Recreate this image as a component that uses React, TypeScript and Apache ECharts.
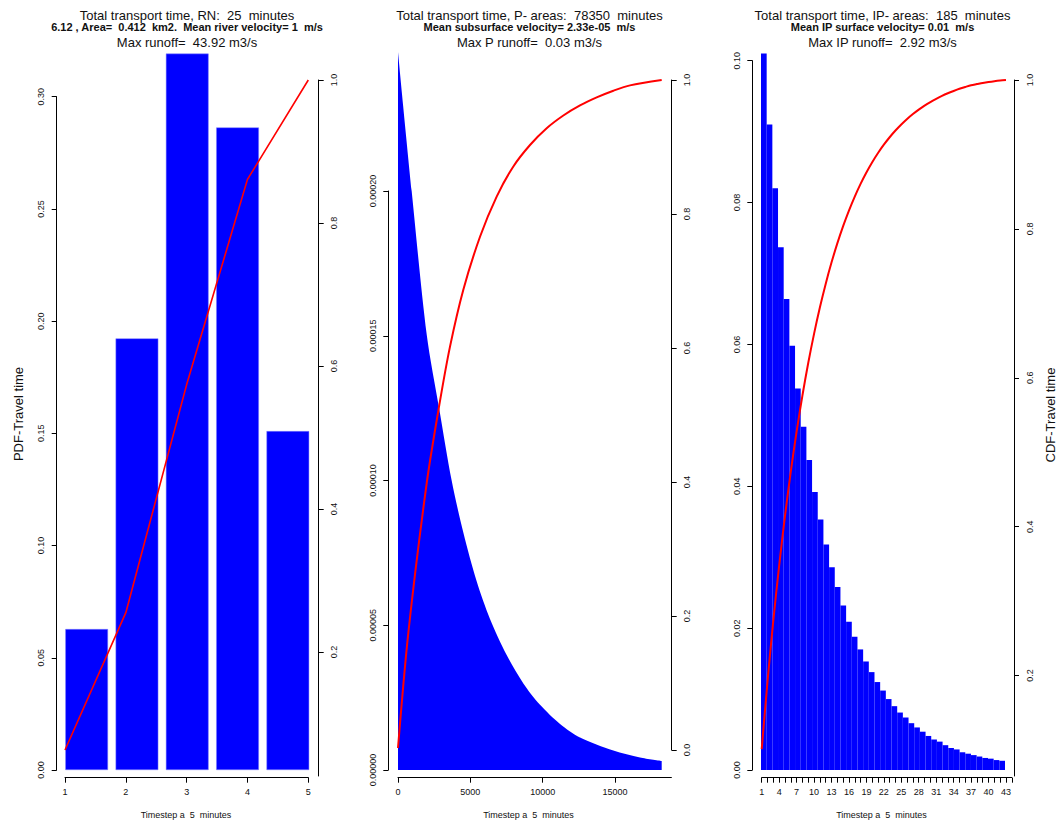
import React, { useEffect, useRef } from "react";
import * as echarts from "echarts";

const FONT = '"Liberation Sans", Arial, Helvetica, sans-serif';
const BLUE = "#0000FF";
const RED = "#FF0000";
const INK = "#111111";

// ---------- Panel 1 : river network (RN) ----------
const rnCategories = ["1", "2", "3", "4", "5"];
const rnPdf = [0.0628, 0.1923, 0.3192, 0.2863, 0.151];
const rnCdfSteps = [1, 2, 3, 4, 5];
const rnCdf = [0.063, 0.255, 0.574, 0.861, 1.0];
const rnXTicks = [1, 2, 3, 4, 5];
const rnCdfTicks = [0.2, 0.4, 0.6, 0.8, 1.0];

// ---------- Panel 2 : P- areas ----------
const pTime = [0, 945, 1982, 2857, 3710, 4516, 5438, 6360, 7512, 8665, 9817, 11200, 12582, 14887, 16731, 18229];
const pPdf = [0.000248, 0.0002, 0.0001505, 0.0001245, 0.0001, 0.000082, 0.0000652, 0.0000522, 0.0000397, 0.0000299, 0.0000225, 0.0000159, 0.0000112, 0.0000067, 0.0000043, 0.0000031];
const pCdfTime = [0, 714, 1982, 2857, 3595, 4516, 5669, 6821, 7974, 9126, 10278, 11430, 12582, 13735, 14887, 16039, 18229];
const pCdf = [0.003, 0.175, 0.398, 0.515, 0.602, 0.687, 0.766, 0.826, 0.871, 0.903, 0.928, 0.947, 0.962, 0.974, 0.984, 0.992, 1.0];
const pXTicks = [0, 5000, 10000, 15000];

// ---------- Panel 3 : IP- areas ----------
const ipSteps = Array.from({ length: 43 }, (_, i) => String(i + 1));
const ipPdf = [0.101, 0.091, 0.082, 0.0737, 0.0664, 0.0598, 0.0538, 0.0484, 0.0437, 0.0392, 0.0353, 0.0318, 0.0286, 0.0258, 0.0232, 0.0209, 0.0188, 0.017, 0.0153, 0.0138, 0.0124, 0.0112, 0.01, 0.009, 0.0081, 0.0074, 0.0066, 0.006, 0.0054, 0.0048, 0.0043, 0.004, 0.0035, 0.0031, 0.0029, 0.0025, 0.0023, 0.0021, 0.0019, 0.0017, 0.0016, 0.0014, 0.0013];
const ipCdf = [0.101, 0.192, 0.274, 0.3477, 0.4141, 0.4739, 0.5277, 0.5761, 0.6198, 0.659, 0.6943, 0.7261, 0.7547, 0.7805, 0.8037, 0.8246, 0.8434, 0.8604, 0.8757, 0.8895, 0.9019, 0.9131, 0.9231, 0.9321, 0.9402, 0.9476, 0.9542, 0.9602, 0.9656, 0.9704, 0.9747, 0.9787, 0.9822, 0.9853, 0.9882, 0.9907, 0.993, 0.9945, 0.996, 0.9973, 0.9984, 0.9993, 1.0];
const ipXLabels = [1, 4, 7, 10, 13, 16, 19, 22, 25, 28, 31, 34, 37, 40, 43];
const ipCdfTicks = [0.2, 0.4, 0.6, 0.8, 1.0];

// ---------- Texts ----------
const panelTitles = [
  ["Total transport time, RN:  25  minutes", "6.12 , Area=  0.412  km2.  Mean river velocity= 1  m/s", "Max runoff=  43.92 m3/s"],
  ["Total transport time, P- areas:  78350  minutes", "Mean subsurface velocity= 2.33e-05  m/s", "Max P runoff=  0.03 m3/s"],
  ["Total transport time, IP- areas:  185  minutes", "Mean IP surface velocity= 0.01  m/s", "Max IP runoff=  2.92 m3/s"],
];
const xTitle = "Timestep a  5  minutes";
const leftTitle = "PDF-Travel time";
const rightTitle = "CDF-Travel time";

const panelCenters = [187, 529.5, 882.5];

const axisLine = { show: true, onZero: false, lineStyle: { color: "#000", width: 1 } };
const axisTick = (extra: any = {}) => ({ show: true, length: 5, inside: false, lineStyle: { color: "#000", width: 1 }, ...extra });
const lbl = (extra: any = {}) => ({ show: true, fontFamily: FONT, fontSize: 9, color: INK, ...extra });

function buildOption() {
  const grid = [
    { left: 61.5, top: 96.7, width: 251.5, height: 673.3 },
    { left: 65, top: 80, width: 243.3, height: 696 },
    { left: 398, top: 191, width: 273.4, height: 579 },
    { left: 398, top: 80, width: 273.4, height: 670 },
    { left: 761, top: 60.7, width: 244, height: 709.3 },
    { left: 761.7, top: 80, width: 250.1, height: 696 },
  ].map((g) => ({ ...g, containLabel: false, show: false }));

  const xAxis: any[] = [
    { gridIndex: 0, type: "category", data: rnCategories, show: false, boundaryGap: true },
    {
      gridIndex: 1, type: "value", position: "bottom", offset: 1.7, min: 1, max: 5, interval: 1,
      axisLine, axisTick: axisTick({ customValues: rnXTicks }),
      axisLabel: lbl({ margin: 10, customValues: rnXTicks, formatter: (v: number) => String(v) }),
      splitLine: { show: false },
    },
    {
      gridIndex: 2, type: "value", position: "bottom", offset: 7.7, min: 0, max: 18900,
      axisLine, axisTick: axisTick({ customValues: pXTicks }),
      axisLabel: lbl({ margin: 10, customValues: pXTicks, formatter: (v: number) => String(v) }),
      splitLine: { show: false },
    },
    { gridIndex: 3, type: "value", min: 0, max: 18900, show: false },
    { gridIndex: 4, type: "category", data: ipSteps, show: false, boundaryGap: true },
    {
      gridIndex: 5, type: "value", position: "bottom", offset: 1.7, min: 1, max: 44, interval: 1,
      axisLine, axisTick: axisTick(),
      axisLabel: lbl({
        margin: 10, customValues: ipXLabels,
        formatter: (v: number) => (ipXLabels.indexOf(Math.round(v)) >= 0 ? String(Math.round(v)) : ""),
      }),
      splitLine: { show: false },
    },
  ];

  const yAxis: any[] = [
    {
      gridIndex: 0, type: "value", position: "left", offset: 4.8, min: 0, max: 0.3, interval: 0.05,
      axisLine, axisTick: axisTick(),
      axisLabel: lbl({ rotate: 90, margin: 11, formatter: (v: number) => v.toFixed(2) }),
      splitLine: { show: false },
    },
    {
      gridIndex: 1, type: "value", position: "right", offset: 10.4, min: 0.0266, max: 1,
      axisLine, axisTick: axisTick({ customValues: rnCdfTicks }),
      axisLabel: lbl({ rotate: 90, margin: 11, customValues: rnCdfTicks, formatter: (v: number) => v.toFixed(1) }),
      splitLine: { show: false },
    },
    {
      gridIndex: 2, type: "value", position: "left", offset: 9.7, min: 0, max: 0.0002, interval: 0.00005,
      axisLine, axisTick: axisTick(),
      axisLabel: lbl({ rotate: 90, margin: 11, formatter: (v: number) => v.toFixed(5) }),
      splitLine: { show: false },
    },
    {
      gridIndex: 3, type: "value", position: "right", offset: 0.3, min: 0, max: 1, interval: 0.2,
      axisLine, axisTick: axisTick(),
      axisLabel: lbl({ rotate: 90, margin: 11, formatter: (v: number) => v.toFixed(1) }),
      splitLine: { show: false },
    },
    {
      gridIndex: 4, type: "value", position: "left", offset: 8.7, min: 0, max: 0.1, interval: 0.02,
      axisLine, axisTick: axisTick(),
      axisLabel: lbl({ rotate: 90, margin: 11, formatter: (v: number) => v.toFixed(2) }),
      splitLine: { show: false },
    },
    {
      gridIndex: 5, type: "value", position: "right", offset: 2.2, min: 0.065, max: 1,
      axisLine, axisTick: axisTick({ customValues: ipCdfTicks }),
      axisLabel: lbl({ rotate: 90, margin: 11, customValues: ipCdfTicks, formatter: (v: number) => v.toFixed(1) }),
      splitLine: { show: false },
    },
  ];

  const series: any[] = [
    {
      type: "bar", xAxisIndex: 0, yAxisIndex: 0, data: rnPdf, barWidth: 42.7, clip: false,
      itemStyle: { color: BLUE, borderColor: "#8080ff", borderWidth: 0.5 },
    },
    {
      type: "line", xAxisIndex: 1, yAxisIndex: 1, clip: false, symbol: "none",
      data: rnCdfSteps.map((x, i) => [x, rnCdf[i]]),
      lineStyle: { color: RED, width: 1.6 }, itemStyle: { color: RED },
    },
    {
      type: "line", xAxisIndex: 2, yAxisIndex: 2, clip: false, symbol: "none",
      smooth: 0.3,
      data: pTime.map((t, i) => [t, pPdf[i]]),
      lineStyle: { width: 0, color: BLUE }, itemStyle: { color: BLUE },
      areaStyle: { color: BLUE, opacity: 1, origin: "start" },
    },
    {
      type: "line", xAxisIndex: 3, yAxisIndex: 3, clip: false, symbol: "none",
      smooth: 0.3,
      data: pCdfTime.map((t, i) => [t, pCdf[i]]),
      lineStyle: { color: RED, width: 2 }, itemStyle: { color: RED },
    },
    {
      type: "bar", xAxisIndex: 4, yAxisIndex: 4, data: ipPdf, barCategoryGap: "0%", clip: false,
      itemStyle: { color: BLUE, borderWidth: 0 },
    },
    {
      type: "line", xAxisIndex: 5, yAxisIndex: 5, clip: false, symbol: "none",
      smooth: 0.3,
      data: ipCdf.map((c, i) => [i + 1, c]),
      lineStyle: { color: RED, width: 2 }, itemStyle: { color: RED },
    },
  ];

  const graphic: any[] = [];
  panelTitles.forEach((lines, p) => {
    const cx = panelCenters[p];
    const ys = [15, 26.7, 42.3];
    lines.forEach((t, k) => {
      graphic.push({
        type: "text", x: cx, y: ys[k], silent: true,
        style: {
          text: t, fontFamily: FONT, fontSize: k === 1 ? 11 : 13, fontWeight: k === 1 ? "bold" : "normal",
          fill: INK, align: "center", verticalAlign: "middle",
        },
      });
    });
    graphic.push({
      type: "text", x: cx - 1, y: 815, silent: true,
      style: { text: xTitle, fontFamily: FONT, fontSize: 9, fill: INK, align: "center", verticalAlign: "middle" },
    });
  });
  graphic.push({
    type: "text", x: 18, y: 414, rotation: Math.PI / 2, silent: true,
    style: { text: leftTitle, fontFamily: FONT, fontSize: 13, fill: INK, align: "center", verticalAlign: "middle" },
  });
  graphic.push({
    type: "text", x: 1050, y: 415, rotation: Math.PI / 2, silent: true,
    style: { text: rightTitle, fontFamily: FONT, fontSize: 13, fill: INK, align: "center", verticalAlign: "middle" },
  });

  return {
    animation: false,
    backgroundColor: "#ffffff",
    textStyle: { fontFamily: FONT },
    grid,
    xAxis,
    yAxis,
    series,
    graphic,
  };
}

export default function App() {
  const ref = useRef<HTMLDivElement>(null);
  useEffect(() => {
    if (!ref.current) return;
    const chart = echarts.init(ref.current, null, { renderer: "svg" });
    chart.setOption(buildOption() as any);
    return () => chart.dispose();
  }, []);
  return (
    <div
      ref={ref}
      style={{ position: "fixed", left: 0, top: 0, width: 1062, height: 823, background: "#fff" }}
    />
  );
}
